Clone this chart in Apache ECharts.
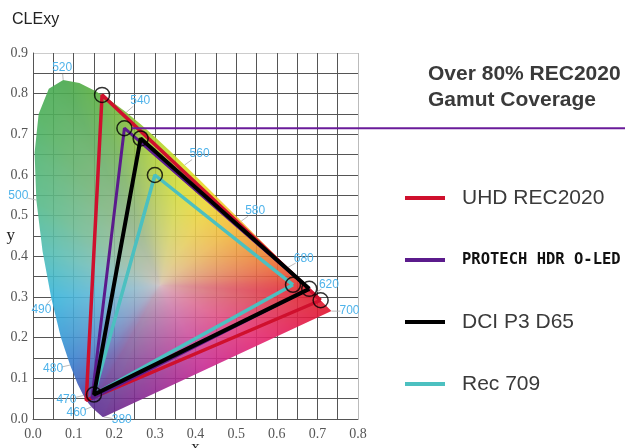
<!DOCTYPE html>
<html>
<head>
<meta charset="utf-8">
<style>
  html, body { margin: 0; padding: 0; background: #fff; }
  #main { width: 625px; height: 448px; }
</style>
<script src="https://cdn.jsdelivr.net/npm/echarts@6/dist/echarts.min.js"></script>
</head>
<body>
<div id="main"></div>
<script>
// CIE 1931 spectral locus (nm -> x, y)
var WAVELENGTHS = [380, 420, 440, 450, 460, 465, 470, 475, 480, 485, 490, 495, 500, 505, 510, 515,
  520, 525, 530, 535, 540, 545, 550, 555, 560, 565, 570, 575, 580, 585, 590, 595, 600, 605, 610,
  620, 630, 640, 650, 680, 700];
var LOCUS_X = [0.1741, 0.1714, 0.1644, 0.1566, 0.1440, 0.1355, 0.1241, 0.1096, 0.0913, 0.0687, 0.0454,
  0.0235, 0.0082, 0.0039, 0.0139, 0.0389, 0.0743, 0.1142, 0.1547, 0.1929, 0.2296, 0.2658, 0.3016,
  0.3373, 0.3731, 0.4087, 0.4441, 0.4788, 0.5125, 0.5448, 0.5752, 0.6029, 0.6270, 0.6482, 0.6658,
  0.6915, 0.7079, 0.7190, 0.7260, 0.7334, 0.7347];
var LOCUS_Y = [0.0050, 0.0051, 0.0109, 0.0177, 0.0297, 0.0399, 0.0578, 0.0868, 0.1327, 0.2007, 0.2950,
  0.4127, 0.5384, 0.6548, 0.7502, 0.8120, 0.8338, 0.8262, 0.8059, 0.7816, 0.7543, 0.7243, 0.6923,
  0.6589, 0.6245, 0.5896, 0.5547, 0.5202, 0.4866, 0.4544, 0.4242, 0.3965, 0.3725, 0.3514, 0.3340,
  0.3083, 0.2920, 0.2809, 0.2740, 0.2666, 0.2653];

// wavelength tags drawn along the locus
var TAG_WL = [520, 540, 560, 580, 600, 620, 700, 500, 490, 480, 470, 460, 380];
var TAG_TEXT = ['520', '540', '560', '580', '680', '620', '700', '500', '490', '480', '470', '460', '380'];

// gamut triangles: red, green, blue primaries
var REC2020_X = [0.708, 0.170, 0.131];
var REC2020_Y = [0.292, 0.797, 0.046];
var OLED_X = [0.680, 0.225, 0.145];
var OLED_Y = [0.320, 0.715, 0.050];
var P3_X = [0.680, 0.265, 0.150];
var P3_Y = [0.320, 0.690, 0.060];
var REC709_X = [0.640, 0.300, 0.150];
var REC709_Y = [0.330, 0.600, 0.060];

// ringed primaries
var RING_X = [0.170, 0.225, 0.265, 0.300, 0.640, 0.680, 0.708, 0.150];
var RING_Y = [0.797, 0.715, 0.690, 0.600, 0.330, 0.320, 0.292, 0.060];

// ---- styling ----
// label offsets in px
var TAG_OFFSET = {
  520: [-1, -12], 540: [14, -12], 560: [15, -11], 580: [14, -10], 600: [16, -9], 620: [15, -9],
  700: [18, 0], 500: [-18, -4], 490: [-10, 11], 480: [-17, 4], 470: [-17, 4], 460: [-15, 6], 380: [18, 3]
};
// edge colours of the horseshoe, keyed by wavelength
var EDGE_PALETTE = [
  [380, [95, 40, 140]], [460, [90, 45, 145]], [470, [70, 70, 170]], [480, [55, 125, 205]],
  [490, [55, 180, 220]], [495, [80, 190, 180]], [500, [85, 185, 135]], [510, [75, 175, 90]],
  [520, [70, 168, 75]], [530, [90, 175, 65]], [540, [130, 190, 55]], [550, [175, 210, 45]],
  [560, [215, 225, 40]], [570, [240, 215, 40]], [580, [245, 185, 45]], [590, [240, 140, 45]],
  [600, [235, 95, 45]], [610, [228, 50, 45]], [620, [225, 25, 45]], [700, [225, 20, 45]]
];
// line of purples, from 700 nm end (0) to 380 nm end (1)
var PURPLE_PALETTE = [[0, [225, 20, 45]], [0.3, [228, 35, 110]], [0.55, [200, 40, 145]],
  [0.8, [140, 40, 145]], [1, [95, 40, 140]]];
var WHITE_POINT = [0.3127, 0.329];
var CENTER_RGB = [212, 192, 192];

function lerpRgb(a, b, t) {
  return [a[0] + (b[0] - a[0]) * t, a[1] + (b[1] - a[1]) * t, a[2] + (b[2] - a[2]) * t];
}
function fromPalette(pal, v) {
  for (var i = 0; i < pal.length - 1; i++) {
    if (v <= pal[i + 1][0]) {
      var t = (v - pal[i][0]) / (pal[i + 1][0] - pal[i][0]);
      return lerpRgb(pal[i][1], pal[i + 1][1], Math.max(0, t));
    }
  }
  return pal[pal.length - 1][1];
}

function closed(xs, ys) {
  var d = xs.map(function (x, i) { return [x, ys[i]]; });
  d.push(d[0]);
  return d;
}

// boundary distance / colour per direction from the white point
var NB = 1440;
function buildRays() {
  var n = LOCUS_X.length;
  var cols = WAVELENGTHS.map(function (w) { return fromPalette(EDGE_PALETTE, w); });
  var rs = new Float64Array(NB), cs = [];
  for (var b = 0; b < NB; b++) {
    var a = -Math.PI + (b + 0.5) / NB * 2 * Math.PI;
    var dx = Math.cos(a), dy = Math.sin(a);
    var best = Infinity, bc = CENTER_RGB;
    for (var k = 0; k < n; k++) {
      var k2 = (k + 1) % n;
      var px = LOCUS_X[k], py = LOCUS_Y[k];
      var ex = LOCUS_X[k2] - px, ey = LOCUS_Y[k2] - py;
      var den = dx * ey - dy * ex;
      if (Math.abs(den) < 1e-12) continue;
      var wx = px - WHITE_POINT[0], wy = py - WHITE_POINT[1];
      var r = (wx * ey - wy * ex) / den;
      var s = (wx * dy - wy * dx) / den;
      if (r > 0 && s >= -1e-9 && s <= 1 + 1e-9 && r < best) {
        best = r;
        bc = k2 === 0 ? fromPalette(PURPLE_PALETTE, s) : lerpRgb(cols[k], cols[k2], s);
      }
    }
    rs[b] = best; cs.push(bc);
  }
  return { r: rs, c: cs };
}

var fieldCanvas = null;
function getField(api) {
  if (fieldCanvas) return fieldCanvas;
  var rays = buildRays();
  var W = api.getWidth(), H = api.getHeight();
  var o = api.coord([0, 0]), u = api.coord([1, 1]);
  var sx = u[0] - o[0], sy = u[1] - o[1];
  var cv = document.createElement('canvas');
  cv.width = W; cv.height = H;
  var ctx = cv.getContext('2d');
  var img = ctx.createImageData(W, H);
  for (var py = 0; py < H; py++) {
    for (var px = 0; px < W; px++) {
      var x = (px + 0.5 - o[0]) / sx, y = (py + 0.5 - o[1]) / sy;
      if (x < -0.02 || y < -0.02 || x > 0.8 || y > 0.9) continue;
      var dx = x - WHITE_POINT[0], dy = y - WHITE_POINT[1];
      var a = Math.atan2(dy, dx);
      var b = Math.floor((a + Math.PI) / (2 * Math.PI) * NB);
      if (b >= NB) b = NB - 1;
      var t = Math.min(1, Math.sqrt(dx * dx + dy * dy) / rays.r[b]);
      var c = lerpRgb(CENTER_RGB, rays.c[b], Math.pow(t, 0.6));
      var k = (py * W + px) * 4;
      img.data[k] = c[0]; img.data[k + 1] = c[1]; img.data[k + 2] = c[2]; img.data[k + 3] = 255;
    }
  }
  ctx.putImageData(img, 0, 0);
  fieldCanvas = cv;
  return cv;
}

var chart = echarts.init(document.getElementById('main'));

var axisText = { fontFamily: 'Liberation Serif', fontSize: 14, color: '#555' };

chart.setOption({
  animation: false,
  title: [{
    text: 'CLExy', left: 7, top: 7,
    textStyle: { fontFamily: 'Liberation Sans', fontSize: 16, fontWeight: 'normal', color: '#222' }
  }, {
    text: 'Over 80% REC2020\nGamut Coverage', left: 423, top: 56,
    textStyle: { fontFamily: 'Liberation Sans', fontSize: 21, fontWeight: 'bold', color: '#3a3a3a', lineHeight: 26 }
  }],
  legend: {
    orient: 'vertical',
    left: 400, top: 182,
    icon: 'rect',
    itemWidth: 40, itemHeight: 4,
    itemGap: 40,
    selectedMode: false,
    textStyle: { fontFamily: 'Liberation Sans', fontSize: 21, color: '#3a3a3a', lineHeight: 22, padding: [0, 0, 0, 12] },
    data: [
      { name: 'UHD REC2020' },
      { name: 'PROTECH HDR O-LED', textStyle: { fontFamily: 'DejaVu Sans Mono', fontWeight: 'bold', fontSize: 15.5, color: '#111' } },
      { name: 'DCI P3 D65' },
      { name: 'Rec 709' }
    ]
  },
  grid: { left: 33, right: 267, top: 53, bottom: 29, outerBoundsMode: 'none', containLabel: false },
  xAxis: {
    type: 'value', min: 0, max: 0.8, interval: 0.1,
    name: 'x', nameLocation: 'middle', nameGap: 20, nameMoveOverlap: false,
    nameTextStyle: { fontFamily: 'Liberation Serif', fontSize: 17, color: '#222', verticalAlign: 'top' },
    axisLine: { lineStyle: { color: '#555' } },
    axisTick: { show: false },
    axisLabel: Object.assign({ margin: 8, formatter: function (v) { return v.toFixed(1); } }, axisText),
    splitLine: { lineStyle: { color: ['#555', '#555', '#555', '#555', '#555', '#555', '#555', '#555', '#bbb'] } },
    minorTick: { show: false, splitNumber: 2 },
    minorSplitLine: { show: true, lineStyle: { color: '#555' } }
  },
  yAxis: {
    type: 'value', min: 0, max: 0.9, interval: 0.1,
    name: 'y', nameLocation: 'middle', nameGap: 18, nameRotate: 0, nameMoveOverlap: false,
    nameTextStyle: { fontFamily: 'Liberation Serif', fontSize: 17, color: '#222', align: 'right' },
    axisLine: { show: true, lineStyle: { color: '#555' } },
    axisTick: { show: false },
    axisLabel: Object.assign({ margin: 5, formatter: function (v) { return v.toFixed(1); } }, axisText),
    splitLine: { lineStyle: { color: ['#555', '#555', '#555', '#555', '#555', '#555', '#555', '#555', '#555', '#ccc'] } },
    minorTick: { show: false, splitNumber: 2 },
    minorSplitLine: { show: true, lineStyle: { color: '#555' } }
  },
  series: [
    {
      type: 'custom', name: 'locus', silent: true, z: 1,
      data: [0],
      renderItem: function (params, api) {
        var pts = LOCUS_X.map(function (x, i) { return api.coord([x, LOCUS_Y[i]]); });
        return {
          type: 'polygon',
          shape: { points: pts },
          style: { fill: { image: getField(api), repeat: 'no-repeat' }, opacity: 0.9 }
        };
      }
    },
    {
      type: 'custom', name: 'tags', silent: true, z: 2,
      data: TAG_WL.map(function (wl, i) {
        var k = WAVELENGTHS.indexOf(wl);
        return [LOCUS_X[k], LOCUS_Y[k], i];
      }),
      renderItem: function (params, api) {
        var p = api.coord([api.value(0), api.value(1)]);
        var i = api.value(2);
        var off = TAG_OFFSET[TAG_WL[i]];
        return {
          type: 'group',
          children: [{
            type: 'line',
            shape: { x1: p[0], y1: p[1], x2: p[0] + off[0] * 0.5, y2: p[1] + off[1] * 0.5 },
            style: { stroke: '#aaa', lineWidth: 0.8 }
          }, {
            type: 'text',
            x: p[0] + off[0], y: p[1] + off[1],
            style: {
              text: TAG_TEXT[i], fill: '#4fb3ea',
              font: '12px "Liberation Sans"', align: 'center', verticalAlign: 'middle'
            }
          }]
        };
      }
    },
    {
      type: 'line', name: 'UHD REC2020', z: 3, symbol: 'none', color: '#cf102d',
      lineStyle: { width: 3.5, color: '#cf102d' },
      data: closed(REC2020_X, REC2020_Y)
    },
    {
      type: 'line', name: 'PROTECH HDR O-LED', z: 3, symbol: 'none', color: '#5b1b8c',
      lineStyle: { width: 3, color: '#5b1b8c' },
      data: closed(OLED_X, OLED_Y)
    },
    {
      type: 'line', name: 'Rec 709', z: 3, symbol: 'none', color: '#4cc0c0',
      lineStyle: { width: 3.5, color: '#4cc0c0' },
      data: closed(REC709_X, REC709_Y)
    },
    {
      type: 'line', name: 'DCI P3 D65', z: 4, symbol: 'none', color: '#000',
      lineStyle: { width: 4, color: '#000' },
      data: closed(P3_X, P3_Y)
    },
    {
      type: 'scatter', name: 'rings', z: 5, silent: true,
      symbol: 'circle', symbolSize: 15,
      itemStyle: { color: 'rgba(0,0,0,0)', borderColor: '#000', borderWidth: 1.5 },
      data: RING_X.map(function (x, i) { return [x, RING_Y[i]]; })
    }
  ]
});

// purple pointer from the O-LED green primary to the right edge
var gp = chart.convertToPixel({ seriesIndex: 3 }, [OLED_X[1], OLED_Y[1]]);
chart.setOption({
  graphic: [{
    type: 'line', z: 10, silent: true,
    shape: { x1: gp[0] + 7.5, y1: gp[1], x2: chart.getWidth(), y2: gp[1] },
    style: { stroke: '#6a1b9a', lineWidth: 2 }
  }]
});
</script>
</body>
</html>
